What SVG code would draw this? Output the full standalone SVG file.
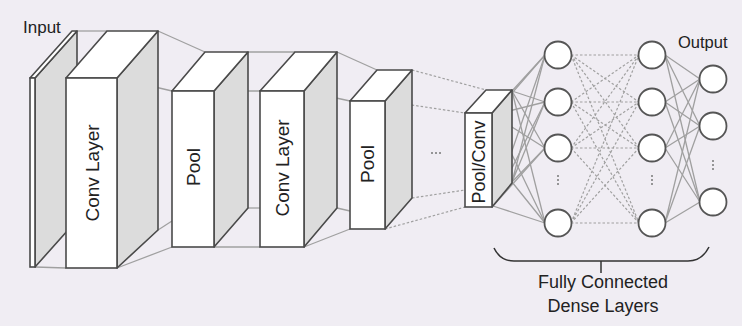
<svg xmlns="http://www.w3.org/2000/svg" width="742" height="326" viewBox="0 0 742 326">
<style>
.bg{fill:#f0edf3}
.front{fill:#ffffff;stroke:#4a4a4a;stroke-width:1.6}
.top{fill:#ffffff;stroke:#4a4a4a;stroke-width:1.6;stroke-linejoin:round}
.side{fill:#dcdcdc;stroke:#4a4a4a;stroke-width:1.6;stroke-linejoin:round}
.lbl{font-family:"Liberation Sans",Arial,sans-serif;font-size:19px;fill:#222;text-anchor:middle;dominant-baseline:central}
.txt{font-family:"Liberation Sans",Arial,sans-serif;fill:#222}
.c{stroke:#a0a0a0;stroke-width:1.3;fill:none}
.d{stroke:#a0a0a0;stroke-width:1.2;fill:none;stroke-dasharray:2.5,2}
.n{fill:#ffffff;stroke:#555;stroke-width:1.8}
.dots{fill:#777}
</style>
<rect class="bg" x="0" y="0" width="742" height="326"/>

<g id="connectors">
  <line class="c" x1="77" y1="31" x2="107" y2="31"/>
  <line class="c" x1="35" y1="78" x2="66" y2="78"/>
  <line class="c" x1="35" y1="267" x2="66" y2="268"/>
  <line class="c" x1="158" y1="31" x2="205" y2="52"/>
  <line class="c" x1="117" y1="78" x2="172" y2="91"/>
  <line class="c" x1="117" y1="268" x2="172" y2="247"/>
  <line class="c" x1="158" y1="230" x2="172" y2="221"/>
  <line class="c" x1="248" y1="52" x2="295" y2="52"/>
  <line class="c" x1="214" y1="91" x2="260" y2="91"/>
  <line class="c" x1="214" y1="247" x2="260" y2="247"/>
  <line class="c" x1="248" y1="208" x2="260" y2="208"/>
  <line class="c" x1="337" y1="52" x2="377" y2="70"/>
  <line class="c" x1="304" y1="91" x2="350" y2="101"/>
  <line class="c" x1="304" y1="247" x2="350" y2="229"/>
  <line class="c" x1="337" y1="208" x2="350" y2="211"/>
  <line class="d" x1="412" y1="70" x2="486" y2="90"/>
  <line class="d" x1="385" y1="101" x2="465" y2="113"/>
  <line class="d" x1="385" y1="229" x2="465" y2="207"/>
  <line class="d" x1="412" y1="198" x2="465" y2="190"/>
  <!-- pool/conv to dense 1 -->
  <g class="c">
    <path d="M512 91L545 55M512 91L545 102M512 91L545 148M512 91L545 223"/>
    <path d="M493 115L545 55M493 115L545 102M493 115L545 148M493 115L545 223"/>
    <path d="M512 182L545 55M512 182L545 102M512 182L545 148M512 182L545 223"/>
    <path d="M493 206L545 55M493 206L545 102M493 206L545 148M493 206L545 223"/>
  </g>
  <!-- dense 1 to dense 2 -->
  <g class="d">
    <path d="M571 55L639 55M571 55L639 102M571 55L639 148M571 55L639 223"/>
    <path d="M571 102L639 55M571 102L639 102M571 102L639 148M571 102L639 223"/>
    <path d="M571 148L639 55M571 148L639 102M571 148L639 148M571 148L639 223"/>
    <path d="M571 223L639 55M571 223L639 102M571 223L639 148M571 223L639 223"/>
  </g>
  <!-- dense 2 to output -->
  <g class="c">
    <path d="M665 55L700 79M665 55L700 126M665 55L700 202"/>
    <path d="M665 102L700 79M665 102L700 126M665 102L700 202"/>
    <path d="M665 148L700 79M665 148L700 126M665 148L700 202"/>
    <path d="M665 223L700 79M665 223L700 126M665 223L700 202"/>
  </g>
</g>

<g id="input">
  <polygon class="side" points="35,78 77,31 77,220 35,267"/>
  <polygon class="top" points="30,78 35,78 77,31 72,31"/>
  <rect class="front" x="30" y="78" width="5" height="189"/>
  <text class="txt" x="23" y="33" font-size="17">Input</text>
</g>

<g id="conv1">
  <polygon class="side" points="117,78 158,31 158,230 117,268"/>
  <polygon class="top" points="66,78 117,78 158,31 107,31"/>
  <rect class="front" x="66" y="78" width="51" height="190"/>
  <text class="lbl" transform="translate(92,173) rotate(-90)">Conv Layer</text>
</g>

<g id="pool1">
  <polygon class="side" points="214,91 248,52 248,208 214,247"/>
  <polygon class="top" points="172,91 214,91 248,52 205,52"/>
  <rect class="front" x="172" y="91" width="42" height="156"/>
  <text class="lbl" transform="translate(193,167) rotate(-90)">Pool</text>
</g>

<g id="conv2">
  <polygon class="side" points="304,91 337,52 337,208 304,247"/>
  <polygon class="top" points="260,91 304,91 337,52 295,52"/>
  <rect class="front" x="260" y="91" width="44" height="156"/>
  <text class="lbl" transform="translate(282,168) rotate(-90)">Conv Layer</text>
</g>

<g id="pool2">
  <polygon class="side" points="385,101 412,70 412,198 385,229"/>
  <polygon class="top" points="350,101 385,101 412,70 377,70"/>
  <rect class="front" x="350" y="101" width="35" height="128"/>
  <text class="lbl" transform="translate(367.5,164) rotate(-90)">Pool</text>
</g>

<g id="ellipsis">
  <circle class="dots" cx="432" cy="153" r="1"/>
  <circle class="dots" cx="436" cy="153" r="1"/>
  <circle class="dots" cx="440" cy="153" r="1"/>
</g>

<g id="poolconv">
  <polygon class="side" points="492,113 512,90 512,183 492,207"/>
  <polygon class="top" points="465,113 492,113 512,90 486,90"/>
  <rect class="front" x="465" y="113" width="27" height="94"/>
  <text class="lbl" font-size="18" transform="translate(478.5,162) rotate(-90)" style="font-size:18px">Pool/Conv</text>
</g>

<g id="dense1">
  <circle class="n" cx="558" cy="55" r="13.5"/>
  <circle class="n" cx="558" cy="102" r="13.5"/>
  <circle class="n" cx="558" cy="148" r="13.5"/>
  <circle class="n" cx="558" cy="223" r="13.5"/>
  <circle class="dots" cx="558" cy="176" r="1"/>
  <circle class="dots" cx="558" cy="180" r="1"/>
  <circle class="dots" cx="558" cy="184" r="1"/>
</g>

<g id="dense2">
  <circle class="n" cx="652" cy="55" r="13.5"/>
  <circle class="n" cx="652" cy="102" r="13.5"/>
  <circle class="n" cx="652" cy="148" r="13.5"/>
  <circle class="n" cx="652" cy="223" r="13.5"/>
  <circle class="dots" cx="652" cy="176" r="1"/>
  <circle class="dots" cx="652" cy="180" r="1"/>
  <circle class="dots" cx="652" cy="184" r="1"/>
</g>

<g id="output">
  <circle class="n" cx="713" cy="79" r="13.5"/>
  <circle class="n" cx="713" cy="126" r="13.5"/>
  <circle class="n" cx="713" cy="202" r="13.5"/>
  <circle class="dots" cx="713" cy="161" r="1"/>
  <circle class="dots" cx="713" cy="165" r="1"/>
  <circle class="dots" cx="713" cy="169" r="1"/>
  <text class="txt" x="678" y="48" font-size="16.5">Output</text>
</g>

<g id="brace">
  <path d="M494 248 Q500 261 514 261 L688 261 Q702 261 709 247" fill="none" stroke="#333" stroke-width="1.5"/>
  <line x1="601" y1="261" x2="601" y2="273" stroke="#333" stroke-width="1.5"/>
  <text class="txt" x="603" y="288" font-size="18" text-anchor="middle">Fully Connected</text>
  <text class="txt" x="603" y="312" font-size="18" text-anchor="middle">Dense Layers</text>
</g>
</svg>
